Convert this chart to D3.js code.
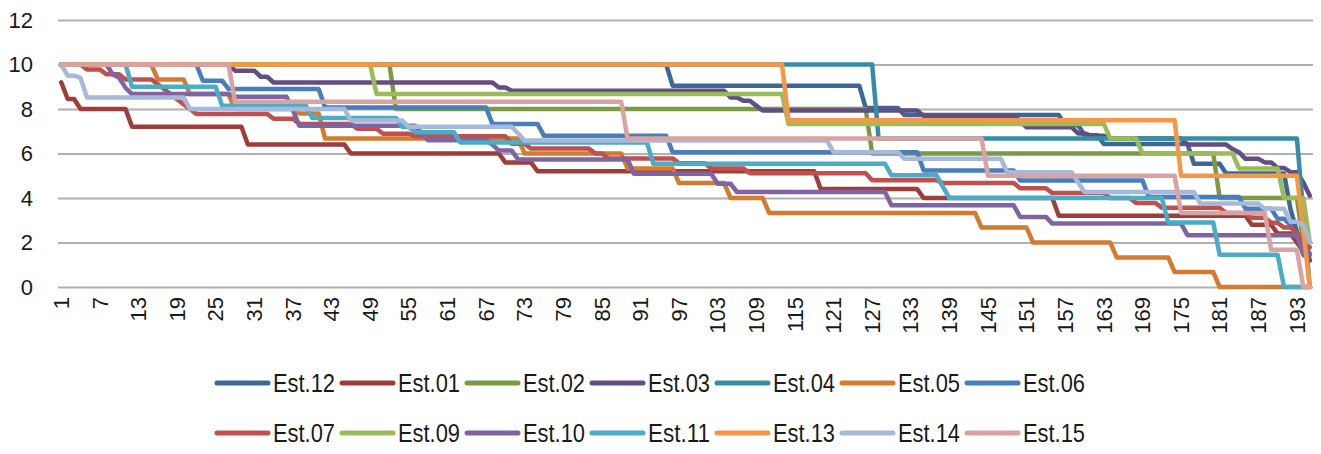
<!DOCTYPE html>
<html><head><meta charset="utf-8">
<script src="https://cdn.jsdelivr.net/npm/d3@7"></script>
<style>
body{margin:0;background:#fff}
svg{display:block}
text{font-family:"Liberation Sans",Arial,sans-serif;fill:#1a1a1a}
</style>
</head><body>
<svg id="chart" width="1321" height="454"></svg>
<script>
// ---- data: each series as [startCategory, value] runs (value holds until next run) ----
const nCategories = 195;
const seriesNames = ["Est.12","Est.01","Est.02","Est.03","Est.04","Est.05","Est.06","Est.07","Est.09","Est.10","Est.11","Est.13","Est.14","Est.15"];
const seriesColors = ["#3B6898","#9E3D3A","#7A9A43","#634E83","#348FA5","#D47B30","#4A7EBB","#C0504D","#9BBB59","#8064A2","#4BACC6","#F79646","#A6B9DA","#D8A3A2"];
const est12 = [[1,10],[96,9.05],[126,8.05],[132,7.73],[157,7.27],[160,6.82],[163,6.43],[177,5.54],[182,5.1],[192,3.5],[193,2.5],[194,1.8],[195,1.2]];
const est01 = [[1,9.2],[2,8.45],[4,8.0],[12,7.2],[30,6.4],[46,6.0],[70,5.6],[75,5.2],[119,4.4],[135,4.0],[156,3.2],[186,2.8],[190,2.4],[193,2.0],[194,1.6],[195,1.2]];
const est02 = [[1,10],[53,8],[127,6],[181,4],[194,2]];
const est03 = [[1,10],[28,9.72],[32,9.45],[34,9.19],[69,8.97],[71,8.82],[105,8.52],[107,8.37],[109,8.15],[110,7.93],[135,7.7],[150,7.45],[151,7.18],[159,6.9],[161,6.8],[164,6.67],[176,6.4],[183,6.2],[184,6.06],[185,5.76],[188,5.6],[190,5.35],[192,5.16],[194,4.7],[195,4.1]];
const est04 = [[1,10],[128,6.67],[194,3.33],[195,0]];
const est05 = [[1,10],[16,9.33],[21,8.67],[28,8.0],[38,7.8],[42,6.67],[73,6.0],[89,5.33],[97,4.67],[105,4.0],[111,3.33],[144,2.67],[152,2.0],[165,1.33],[174,0.67],[181,0]];
const est06 = [[1,10],[23,9.27],[27,8.9],[42,8.07],[68,7.33],[76,6.8],[96,6.06],[135,5.24],[150,4.79],[170,4.04],[185,3.52],[190,3.07],[192,2.78],[193,2.25],[194,2.03],[195,1.5]];
const est07 = [[1,10],[5,9.78],[8,9.56],[11,9.33],[16,9.11],[17,8.89],[18,8.67],[19,8.44],[20,8.22],[21,8.0],[22,7.78],[34,7.56],[38,7.33],[47,7.11],[51,6.89],[56,6.78],[71,6.44],[74,6.22],[84,6.0],[86,5.78],[97,5.56],[102,5.33],[108,5.11],[127,4.8],[138,4.67],[150,4.44],[155,4.22],[164,4.0],[168,3.78],[172,3.56],[182,3.33],[186,3.11],[189,2.89],[191,2.67],[193,2.44],[194,2.0],[195,1.78]];
const est09 = [[1,10],[50,8.67],[114,7.33],[164,6.67],[169,6.0],[184,5.33],[191,4.0],[195,2.0]];
const est10 = [[1,10],[9,9.56],[10,9.4],[11,8.95],[12,8.67],[28,8.55],[37,7.95],[38,7.25],[57,6.9],[58,6.6],[68,6.4],[69,6.13],[72,5.73],[90,5.09],[103,4.64],[106,4.27],[130,3.67],[150,3.15],[155,2.85],[176,2.33],[194,1.43]];
const est11 = [[1,10],[12,9.0],[26,8.15],[40,7.6],[54,7.2],[56,6.96],[63,6.5],[93,5.54],[130,5.02],[138,4.5],[139,4.0],[173,2.9],[181,1.45],[191,0]];
const est13 = [[1,10],[114,7.5],[175,5],[194,2.5],[195,0]];
const est14 = [[1,10],[2,9.5],[4,9.4],[5,8.52],[21,8.0],[46,7.48],[55,7.2],[72,6.9],[73,6.58],[121,6.06],[132,5.76],[148,5.16],[159,4.7],[160,4.27],[178,3.75],[188,3.52],[192,2.93],[194,2.8],[195,2.0]];
const est15 = [[1,10],[28,8.33],[89,6.67],[145,5.0],[175,3.33],[189,1.67],[194,0]];
const xTickLabels = [1,7,13,19,25,31,37,43,49,55,61,67,73,79,85,91,97,103,109,115,121,127,133,139,145,151,157,163,169,175,181,187,193];
const yTickLabels = [0,2,4,6,8,10,12];

const seriesRuns = [est12,est01,est02,est03,est04,est05,est06,est07,est09,est10,est11,est13,est14,est15];
const categories = d3.range(1, nCategories + 1);
function expandRuns(runs){
  return categories.map(c => { let v = runs[0][1]; for (const [s,val] of runs) if (s <= c) v = val; return v; });
}

const svg = d3.select("#chart");
const plot = {left:58, right:1313, top:20, bottom:287};
const x = d3.scaleBand().domain(categories).range([plot.left, plot.right]).paddingInner(0).paddingOuter(0);
const cx = c => x(c) + x.bandwidth()/2;
const y = d3.scaleLinear().domain([0,12]).range([plot.bottom, plot.top]);

// grid + y axis
const yAxis = d3.axisLeft(y).tickValues(yTickLabels).tickFormat(d3.format("d"))
  .tickSizeInner(-(plot.right-plot.left)).tickSizeOuter(0).tickPadding(25);
const gy = svg.append("g").attr("transform",`translate(${plot.left},0)`).call(yAxis);
gy.select(".domain").remove();
gy.selectAll(".tick line").attr("stroke","#B0B0B0").attr("stroke-width",1.8);
gy.selectAll(".tick text").attr("font-size",22).attr("fill","#1a1a1a")
  .attr("font-family","'Liberation Sans',Arial,sans-serif");

// x axis labels
const xAxis = d3.axisBottom(x).tickValues(xTickLabels).tickSize(0).tickPadding(0);
const gx = svg.append("g").attr("transform",`translate(0,${plot.bottom})`).call(xAxis);
gx.select(".domain").remove();
gx.selectAll(".tick text")
  .attr("font-size",22).attr("fill","#1a1a1a")
  .attr("font-family","'Liberation Sans',Arial,sans-serif")
  .attr("text-anchor","end")
  .attr("transform","translate(0,10) rotate(-90)")
  .attr("x",0).attr("y",0).attr("dy","0.35em");

// lines
const line = d3.line().x((d,i)=>cx(categories[i])).y(d=>y(d));
seriesRuns.forEach((runs,k)=>{
  svg.append("path").datum(expandRuns(runs))
    .attr("fill","none").attr("stroke",seriesColors[k]).attr("stroke-width",4.5)
    .attr("stroke-linejoin","round").attr("stroke-linecap","round")
    .attr("d",line);
});

// legend
const legend = svg.append("g");
seriesNames.forEach((name,k)=>{
  const col = k % 7, row = Math.floor(k/7);
  const lx = 215 + col*125, ly = 383 + row*50;
  legend.append("line").attr("x1",lx+2).attr("x2",lx+53).attr("y1",ly).attr("y2",ly)
    .attr("stroke",seriesColors[k]).attr("stroke-width",5).attr("stroke-linecap","round");
  legend.append("text").attr("x",lx+58).attr("y",ly).attr("dy","0.36em")
    .attr("font-size",25).attr("textLength",62).attr("lengthAdjust","spacingAndGlyphs").text(name);
});
</script>
</body></html>
